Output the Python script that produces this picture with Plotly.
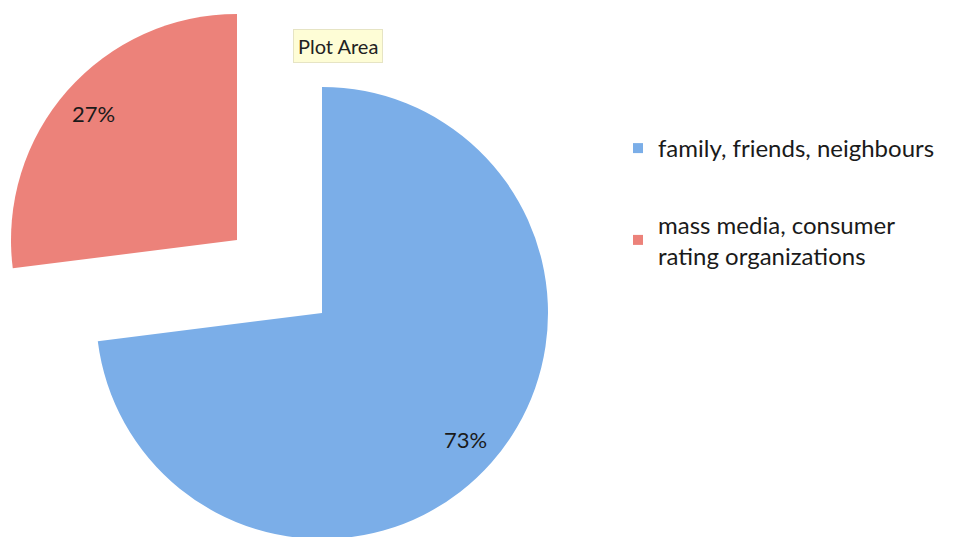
import math

import plotly.graph_objects as go

# ---------------------------------------------------------------------------
# Data
# ---------------------------------------------------------------------------
labels = ["family, friends, neighbours", "mass media, consumer<br>rating organizations"]
values = [73, 27]
colors = ["#7BAEE8", "#EC827A"]

# ---------------------------------------------------------------------------
# Layout constants (figure pixels)
# ---------------------------------------------------------------------------
W, H = 953, 537
R = 226
_FONT = "Lato, 'Open Sans', sans-serif"
_TEXT = "#1A1A1A"
_CLEAR = "rgba(0,0,0,0)"

# centre of the main pie and of the exploded slice
centres = [(314, 305), (229, 232)]


def _domain(cx, cy):
    return dict(x=[(cx - R) / W, (cx + R) / W],
                y=[1 - (cy + R) / H, 1 - (cy - R) / H])


fig = go.Figure()

total = sum(values)
start = 0.0
for i, (cx, cy) in enumerate(centres):
    slice_colors = [_CLEAR] * len(values)
    slice_colors[i] = colors[i]
    fig.add_trace(go.Pie(
        labels=labels,
        values=values,
        sort=False,
        direction="clockwise",
        rotation=0,
        marker=dict(colors=slice_colors, line=dict(width=0)),
        textinfo="none",
        domain=_domain(cx, cy),
        showlegend=False,
        hoverinfo="skip",
    ))

    # percentage label placed along the slice bisector
    frac = values[i] / total
    mid = 2 * math.pi * (start + frac / 2)
    start += frac
    tx = cx + 0.845 * R * math.sin(mid)
    ty = cy - 0.845 * R * math.cos(mid)
    fig.add_annotation(
        text=f"{round(frac * 100)}%",
        xref="paper", yref="paper",
        x=tx / W, y=1 - ty / H,
        xanchor="center", yanchor="middle",
        showarrow=False,
        font=dict(family=_FONT, size=22, color=_TEXT),
    )

# Legend entries
for i, (lab, clr) in enumerate(zip(labels, colors)):
    fig.add_trace(go.Scatter(
        x=[None], y=[None],
        mode="markers",
        name=lab,
        legendgroup=f"g{i}",
        marker=dict(symbol="square", size=10, color=clr),
    ))

fig.add_annotation(
    text="Plot Area",
    xref="paper", yref="paper",
    x=330 / W, y=1 - 38 / H,
    xanchor="center", yanchor="middle",
    showarrow=False,
    font=dict(family=_FONT, size=20, color="#222222"),
    bgcolor="#FEFDD6",
    bordercolor="#E6E4C4",
    borderwidth=1,
    borderpad=4,
)

fig.update_layout(
    width=W,
    height=H,
    paper_bgcolor="white",
    plot_bgcolor="white",
    margin=dict(l=0, r=0, t=0, b=0),
    xaxis=dict(visible=False),
    yaxis=dict(visible=False),
    showlegend=True,
    legend=dict(
        x=610 / W, y=1 - 118 / H,
        xanchor="left", yanchor="top",
        font=dict(family=_FONT, size=24, color=_TEXT),
        bgcolor="rgba(0,0,0,0)",
        tracegroupgap=42,
        itemwidth=30,
    ),
)

fig.write_html("out.html")
